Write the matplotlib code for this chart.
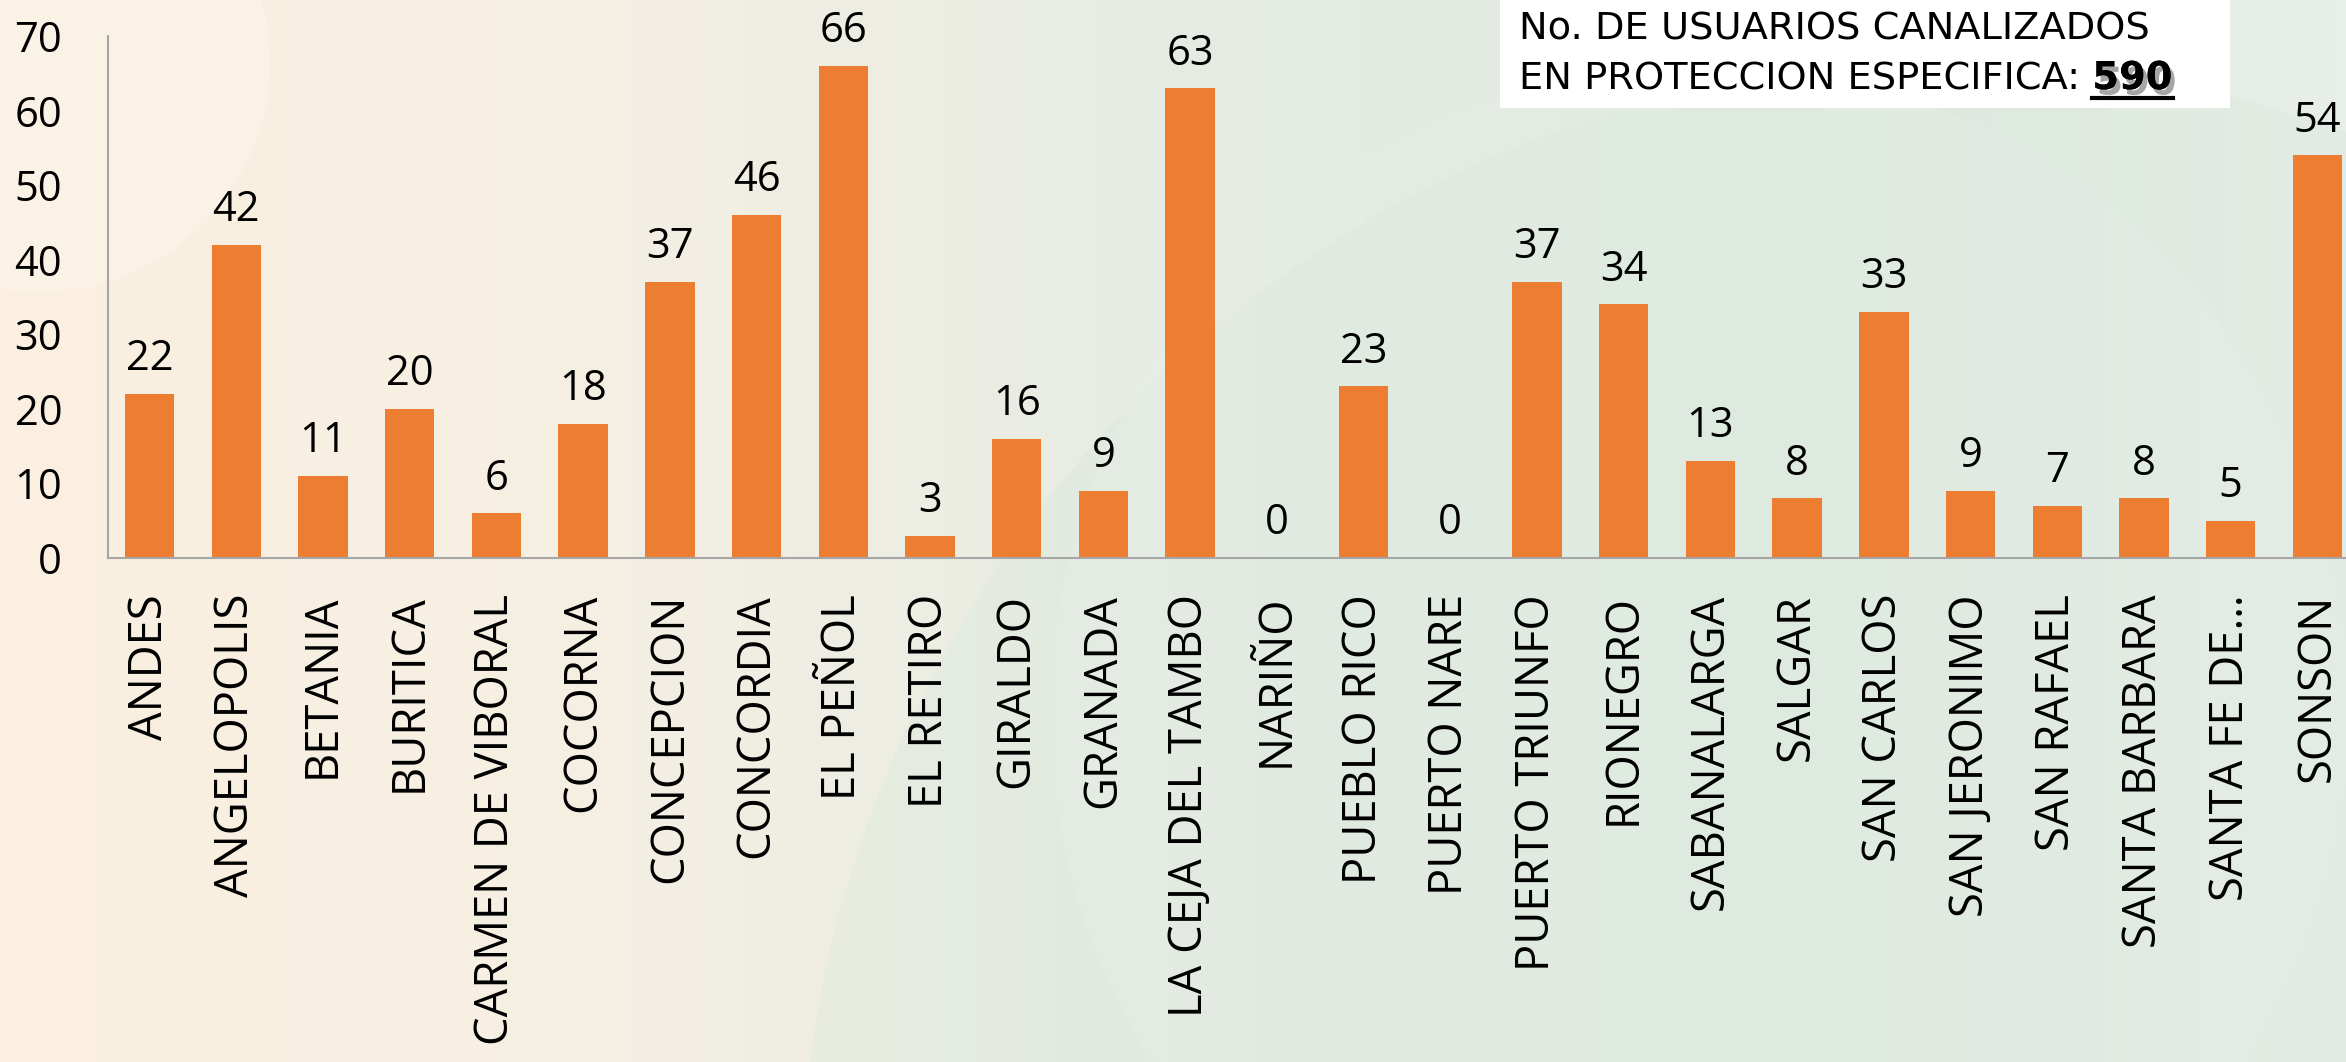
import numpy as np
import matplotlib.pyplot as plt
import matplotlib.patheffects as pe
from matplotlib.colors import LinearSegmentedColormap

municipios = ['ANDES', 'ANGELOPOLIS', 'BETANIA', 'BURITICA', 'CARMEN DE VIBORAL',
              'COCORNA', 'CONCEPCION', 'CONCORDIA', 'EL PEÑOL', 'EL RETIRO',
              'GIRALDO', 'GRANADA', 'LA CEJA DEL TAMBO', 'NARIÑO', 'PUEBLO RICO',
              'PUERTO NARE', 'PUERTO TRIUNFO', 'RIONEGRO', 'SABANALARGA', 'SALGAR',
              'SAN CARLOS', 'SAN JERONIMO', 'SAN RAFAEL', 'SANTA BARBARA',
              'SANTA FE DE…', 'SONSON']
usuarios = [22, 42, 11, 20, 6, 18, 37, 46, 66, 3, 16, 9, 63, 0, 23, 0, 37, 34,
            13, 8, 33, 9, 7, 8, 5, 54]
yticks = [0, 10, 20, 30, 40, 50, 60, 70]
total = sum(usuarios)

W, H = 2346, 1062
fig = plt.figure(figsize=(W / 100, H / 100), dpi=100)

# background: cream on the left fading to pale green, with soft arcs
bg = fig.add_axes([0, 0, 1, 1], zorder=-10)
cmap = LinearSegmentedColormap.from_list('bg', ['#fbefe0', '#f5efe3', '#e6ece3', '#dfe9e0', '#e8eee8'])
grad = np.linspace(0, 1, 512)[None, :]
bg.imshow(grad, aspect='auto', cmap=cmap, extent=[0, W, 0, H])
bg.add_patch(plt.Circle((1950, -150), 1150, color='#d3e6d8', alpha=0.25, lw=0))
bg.add_patch(plt.Circle((1700, 350), 650, color='#e9f0ea', alpha=0.25, lw=0))
bg.add_patch(plt.Circle((40, 1000), 230, color='#fdf6ec', alpha=0.5, lw=0))
bg.set_xlim(0, W)
bg.set_ylim(0, H)
bg.axis('off')

ax = fig.add_axes([108 / W, 1 - 558 / H, 1 - 108 / W, (558 - 36) / H])
ax.patch.set_alpha(0)
x = np.arange(len(municipios))
ax.bar(x, usuarios, width=0.57, color='#ed7d31', zorder=2)
for xi, v in zip(x, usuarios):
    ax.annotate(str(v), (xi, v), xytext=(0, 17), textcoords='offset points',
                ha='center', va='baseline', fontsize=30, family='Open Sans')

ax.set_xlim(-0.48, len(municipios) - 0.67)
ax.set_ylim(0, 70)
ax.set_yticks(yticks)
ax.set_yticklabels([str(t) for t in yticks], fontsize=30, family='Open Sans')
ax.set_xticks(x)
ax.set_xticklabels(municipios, rotation=90, fontsize=32.7, family='Open Sans')
ax.tick_params(axis='y', length=0, pad=33)
ax.tick_params(axis='x', length=0, pad=26)
for s in ['top', 'right']:
    ax.spines[s].set_visible(False)
for s in ['left', 'bottom']:
    ax.spines[s].set_color('#a6a6a6')
    ax.spines[s].set_linewidth(1.5)

# total box
fig.patches.append(plt.Rectangle((1500 / W, 1 - 108 / H), 730 / W, 108 / H, transform=fig.transFigure,
                                 facecolor='white', edgecolor='none', zorder=5))
fig.text(1519 / W, 1 - 40 / H, 'No. DE USUARIOS CANALIZADOS', fontsize=27.6, family='DejaVu Sans',
         ha='left', va='baseline', zorder=6)
t2 = fig.text(1519 / W, 1 - 89 / H, 'EN PROTECCION ESPECIFICA: ', fontsize=27.6, family='DejaVu Sans',
              ha='left', va='baseline', zorder=6)
fig.canvas.draw()
bb = t2.get_window_extent()
t3 = fig.text(bb.x1 / W, 1 - 89 / H, str(total), fontsize=27.6, fontweight='bold', family='DejaVu Sans',
              ha='left', va='baseline', zorder=6,
              path_effects=[pe.withSimplePatchShadow(offset=(3, -4), alpha=0.35), pe.Normal()])
fig.canvas.draw()
b3 = t3.get_window_extent()
fig.add_artist(plt.Line2D([b3.x0 / W, b3.x1 / W], [(b3.y0 - 1) / H] * 2, color='black', lw=3, zorder=6,
                          transform=fig.transFigure))

fig.savefig('out.png', dpi=100)
